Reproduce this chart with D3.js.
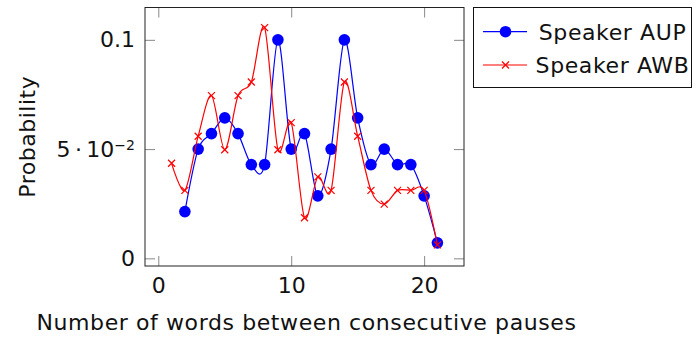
<!DOCTYPE html>
<html>
<head>
<meta charset="utf-8">
<script src="https://cdn.jsdelivr.net/npm/d3@7"></script>
<style>
  body { margin: 0; background: #fff; }
  text { font-family: "DejaVu Sans", sans-serif; fill: #111; }
</style>
</head>
<body>
<svg width="696" height="339"></svg>
<script>
// words between pauses
let aupX = [2, 3, 4, 5, 6, 7, 8, 9, 10, 11, 12, 13, 14, 15, 16, 17, 18, 19, 20, 21]
let aupY = [0.0214, 0.05, 0.0571, 0.0643, 0.0571, 0.0429, 0.0429, 0.1, 0.05, 0.0571,
            0.0286, 0.05, 0.1, 0.0643, 0.0429, 0.05, 0.0429, 0.0429, 0.0286, 0.0071]

let awbX = [1, 2, 3, 4, 5, 6, 7, 8, 9, 10, 11, 12, 13, 14, 15, 16, 17, 18, 19, 20, 21]
let awbY = [0.0435, 0.0311, 0.0559, 0.0745, 0.0497, 0.0745, 0.0807, 0.1056, 0.0497, 0.0621,
            0.0186, 0.0373, 0.0311, 0.0807, 0.0559, 0.0311, 0.0248, 0.0311, 0.0311, 0.0311, 0.0062]

let xTicks = [0, 10, 20]
let yTicks = [0, 0.05, 0.1]
let seriesNames = ['Speaker AUP', 'Speaker AWB']

let pLeft = 145, pRight = 464, pTop = 7.5, pBottom = 266
let fs = 22

let svg = d3.select('svg')

let xScale = d3.scaleLinear().domain([-1, 23]).range([pLeft, pRight])
let yScale = d3.scaleLinear().domain([-0.0035, 0.1148]).range([pBottom, pTop])

let fmtY = (d) => d === 0 ? '0' : (d === 0.1 ? '0.1' : '')

// axes (ticks pointing inward)
svg.append('g')
   .attr('transform', 'translate(0,' + pBottom + ')')
   .call(d3.axisBottom(xScale).tickValues(xTicks).tickSize(-10).tickPadding(11))
   .attr('font-size', fs)
svg.append('g')
   .attr('transform', 'translate(0,' + pTop + ')')
   .call(d3.axisTop(xScale).tickValues(xTicks).tickSize(-10).tickFormat(''))
let yAxisG = svg.append('g')
   .attr('transform', 'translate(' + pLeft + ',0)')
   .call(d3.axisLeft(yScale).tickValues(yTicks).tickSize(-10).tickPadding(10).tickFormat(fmtY))
   .attr('font-size', fs)
svg.append('g')
   .attr('transform', 'translate(' + pRight + ',0)')
   .call(d3.axisRight(yScale).tickValues(yTicks).tickSize(-10).tickFormat(''))

svg.selectAll('.domain').remove()
svg.selectAll('.tick line').attr('stroke', '#888').attr('stroke-width', 1)
svg.selectAll('.tick text').attr('fill', '#111').style('font-family', '"DejaVu Sans", sans-serif')

// 5·10^-2 label
yAxisG.selectAll('.tick text')
      .filter((d) => d === 0.05)
      .each(function () {
        let t = d3.select(this)
        t.append('tspan').text('5\u2009·\u200910')
        t.append('tspan').attr('dy', '-0.45em').attr('font-size', 14).text('−2')
      })

// frame
svg.append('rect')
   .attr('x', pLeft).attr('y', pTop)
   .attr('width', pRight - pLeft).attr('height', pBottom - pTop)
   .attr('fill', 'none').attr('stroke', '#222').attr('stroke-width', 1)

let line = d3.line()
             .x((d) => xScale(d[0]))
             .y((d) => yScale(d[1]))
             .curve(d3.curveCardinal.tension(0.1))

let aup = aupX.map((x, i) => [x, aupY[i]])
let awb = awbX.map((x, i) => [x, awbY[i]])

svg.append('path')
   .datum(aup)
   .attr('d', line)
   .attr('fill', 'none').attr('stroke', '#0000ff').attr('stroke-width', 1.2)
svg.selectAll('circle.aup')
   .data(aup)
   .enter()
   .append('circle')
   .attr('class', 'aup')
   .attr('cx', (d) => xScale(d[0]))
   .attr('cy', (d) => yScale(d[1]))
   .attr('r', 5.8)
   .attr('fill', '#0000ff')

svg.append('path')
   .datum(awb)
   .attr('d', line)
   .attr('fill', 'none').attr('stroke', '#ff0000').attr('stroke-width', 1.2)

let cross = (g, cx, cy, s) => {
    g.append('path')
     .attr('d', 'M' + (cx - s) + ',' + (cy - s) + 'L' + (cx + s) + ',' + (cy + s) +
                'M' + (cx - s) + ',' + (cy + s) + 'L' + (cx + s) + ',' + (cy - s))
     .attr('stroke', '#ff0000').attr('stroke-width', 1.2).attr('fill', 'none')
}
let crossG = svg.append('g')
awb.forEach((d) => cross(crossG, xScale(d[0]), yScale(d[1]), 3.5))

// axis titles
svg.append('text')
   .attr('x', (pLeft + pRight) / 2 + 2).attr('y', 330)
   .attr('text-anchor', 'middle').attr('font-size', fs)
   .attr('letter-spacing', 0.6)
   .text('Number of words between consecutive pauses')
svg.append('text')
   .attr('transform', 'translate(35,' + (pTop + pBottom) / 2 + ') rotate(-90)')
   .attr('text-anchor', 'middle').attr('font-size', fs)
   .attr('letter-spacing', 0.5)
   .text('Probability')

// legend
let lg = svg.append('g')
lg.append('rect')
  .attr('x', 473.5).attr('y', 7.5).attr('width', 218).attr('height', 80)
  .attr('fill', '#fff').attr('stroke', '#111').attr('stroke-width', 1)
let rowY = [31.7, 65]
lg.append('line').attr('x1', 483).attr('x2', 527).attr('y1', rowY[0]).attr('y2', rowY[0])
  .attr('stroke', '#0000ff').attr('stroke-width', 1.2)
lg.append('circle').attr('cx', 505.5).attr('cy', rowY[0]).attr('r', 5.8).attr('fill', '#0000ff')
lg.append('line').attr('x1', 483).attr('x2', 527).attr('y1', rowY[1]).attr('y2', rowY[1])
  .attr('stroke', '#ff0000').attr('stroke-width', 1.2)
cross(lg, 505.5, rowY[1], 3.5)
seriesNames.forEach((name, i) => {
    lg.append('text')
      .attr('x', 612.5).attr('y', rowY[i])
      .attr('dy', '0.36em')
      .attr('text-anchor', 'middle').attr('font-size', fs)
      .attr('letter-spacing', 0.6)
      .text(name)
})
</script>
</body>
</html>
